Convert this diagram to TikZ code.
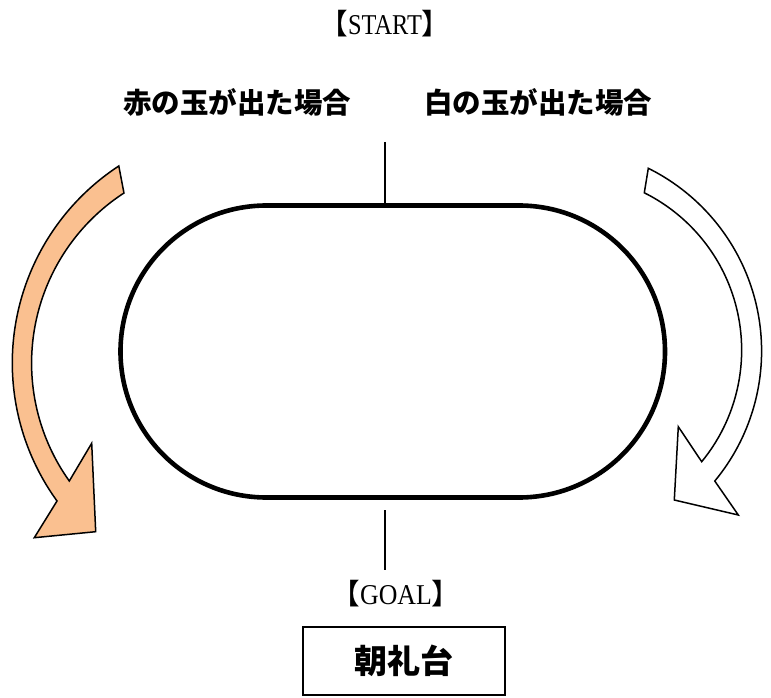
\documentclass[tikz,border=0pt]{standalone}
\usepackage{fontspec}
\usepackage{graphicx}
\newfontfamily\jp{Noto Sans CJK JP}
\newfontfamily\lat{Liberation Serif}
\definecolor{redfill}{HTML}{FAC090}
\tikzset{
  track/.style={draw=black, line width=4.6pt},
  tick/.style={draw=black, line width=1.5pt},
  bigarrow/.style={draw=black, line width=1.5pt, line join=miter},
  label/.style={inner sep=0pt, font=\jp\bfseries\fontsize{28.5}{32}\selectfont},
  ends/.style={inner sep=0pt, font=\lat\fontsize{28.7}{32}\selectfont},
  standbox/.style={draw=black, line width=1.8pt, minimum width=202pt, minimum height=68pt, inner sep=0pt, font=\jp\bfseries\fontsize{33}{36}\selectfont}
}
\begin{document}
\begin{tikzpicture}[x=1pt,y=1pt]
\useasboundingbox (0,0) rectangle (771,697);
% track (stadium)
\path[track] (266.5,491.5) -- (519,491.5) arc[start angle=90,end angle=-90,radius=146pt]
  -- (266.5,199.5) arc[start angle=270,end angle=90,radius=146pt] -- cycle;
% start / goal ticks
\coordinate (st1) at (385,555);
\coordinate (st2) at (385,491.5);
\coordinate (go1) at (385,187);
\coordinate (go2) at (385,127);
\draw[tick] (st1) -- (st2);
\draw[tick] (go1) -- (go2);
% texts
\node[ends] (start) at (385,673) {{\jp 【}\scalebox{0.85}[1]{START}{\jp 】}};
\node[ends] (goal) at (396,103) {{\jp 【}\scalebox{0.9}[1]{GOAL}{\jp 】}};
\node[label] (red) at (237,595) {赤の玉が出た場合};
\node[label] (white) at (538,595) {白の玉が出た場合};
\node[standbox] (stand) at (404,36) {朝礼台};
% left (red) curved arrow
\path[bigarrow, fill=redfill] (118.8,531) arc[start angle=123.2,end angle=215.9,radius=235.4pt]
  -- (34.3,159.3) -- (95.7,165.3) -- (91.7,253.7) -- (69.3,216)
  arc[start angle=215.5,end angle=123,radius=202.9pt] -- cycle;
% right (white) curved arrow
\path[bigarrow, fill=white] (648.3,528.7) arc[start angle=63.6,end angle=-39.6,radius=204pt]
  -- (738.3,182) -- (674.3,197) -- (678.3,270.3) -- (701.7,235.3)
  arc[start angle=-39.4,end angle=63.5,radius=175.8pt] -- cycle;
\end{tikzpicture}
\end{document}
